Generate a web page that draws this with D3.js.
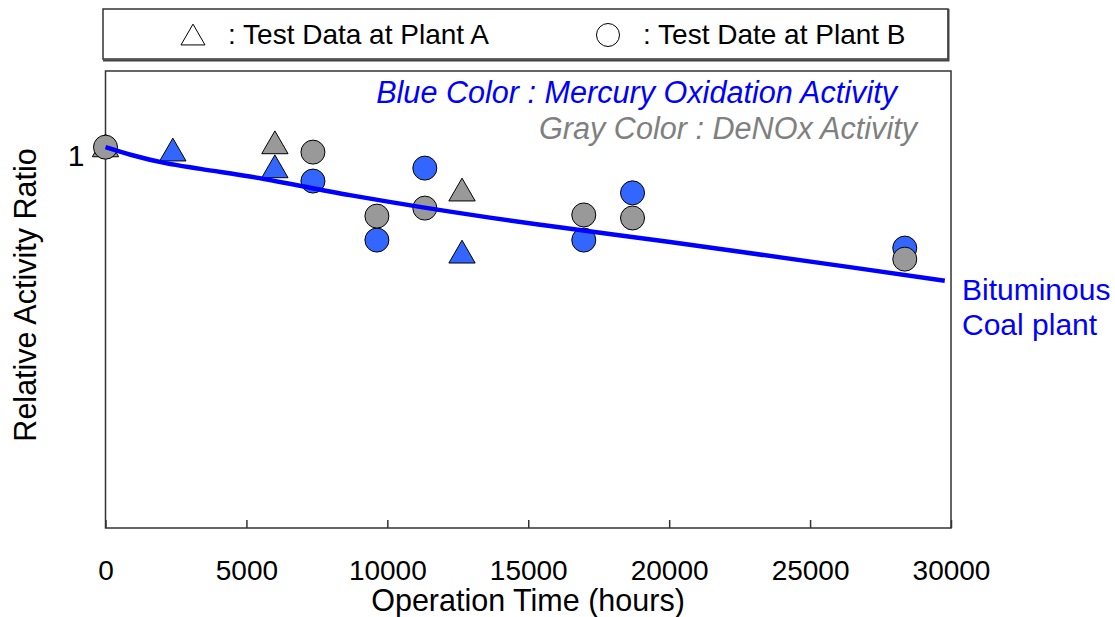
<!DOCTYPE html>
<html>
  <head>
    <title>Relative Activity Ratio</title>
    <script type="text/javascript" src="https://cdnjs.cloudflare.com/ajax/libs/d3/7.8.5/d3.min.js"></script>
    <style>
      body { margin: 0; background: #fff; }
      text { font-family: "Liberation Sans", Arial, sans-serif; }
    </style>
  </head>
  <body>
  <script>

    // plant A (triangles)
    var aMercuryHours = [2390, 6010, 12650];
    var aMercury      = [0.989, 0.945, 0.721];
    var aDenoxHours   = [0, 6010, 12650];
    var aDenox        = [1.0, 1.008, 0.884];

    // plant B (circles)
    var bMercuryHours = [7360, 9630, 11330, 16970, 18700, 28360];
    var bMercury      = [0.911, 0.756, 0.945, 0.756, 0.880, 0.735];
    var bDenoxHours   = [0, 7360, 9630, 11330, 16970, 18700, 28360];
    var bDenox        = [1.0, 0.987, 0.819, 0.840, 0.822, 0.814, 0.706];

    // trend line for bituminous coal plant
    var trendHours = [0, 890, 2130, 3370, 5120, 8670, 13640, 15770, 20030, 26410, 29780];
    var trendRatio = [1.0, 0.980, 0.958, 0.943, 0.923, 0.874, 0.815, 0.793, 0.751, 0.685, 0.649];

    var xTicks = [0, 5000, 10000, 15000, 20000, 25000, 30000];
    var yTicks = [1];

    var blue = '#3366ff', gray = '#999999';

    var svg = d3.select('body')
              .append('svg')
              .attr('width', 1115)
              .attr('height', 617);

    var x = d3.scaleLinear().domain([0, 30000]).range([105.5, 951]);
    var y = d3.scaleLinear().domain([0, 1.2]).range([528, 71]);

    // legend box
    svg.append('rect')
      .attr('x', 103).attr('y', 9)
      .attr('width', 845).attr('height', 50)
      .attr('fill', 'none').attr('stroke', '#333').attr('stroke-width', 1.5);
    svg.append('path')
      .attr('d', 'M103,60.5H948.5V9')
      .attr('fill', 'none').attr('stroke', '#444').attr('stroke-width', 2);

    svg.append('path')
      .attr('d', d3.symbol().type(d3.symbolTriangle).size(250)())
      .attr('transform', 'translate(193,38)')
      .attr('fill', 'none').attr('stroke', '#000').attr('stroke-width', 1);
    svg.append('text').attr('x', 228).attr('y', 44)
      .style('font-size', '28px').text(': Test Data at Plant A');

    svg.append('circle').attr('cx', 608).attr('cy', 35).attr('r', 11.5)
      .attr('fill', 'none').attr('stroke', '#000').attr('stroke-width', 1);
    svg.append('text').attr('x', 643).attr('y', 44)
      .style('font-size', '28px').text(': Test Date at Plant B');

    // plot box
    svg.append('rect')
      .attr('x', x(0)).attr('y', y(1.2))
      .attr('width', x(30000) - x(0)).attr('height', y(0) - y(1.2))
      .attr('fill', 'none').attr('stroke', '#333').attr('stroke-width', 1.5);

    var xAxis = svg.append('g')
      .attr('transform', 'translate(0,' + y(0) + ')')
      .call(d3.axisBottom(x).tickValues(xTicks).tickFormat(d3.format('d'))
        .tickSizeInner(-8).tickSizeOuter(0).tickPadding(32));
    xAxis.select('.domain').remove();
    xAxis.selectAll('line').attr('stroke', '#333').attr('stroke-width', 1.5);
    xAxis.selectAll('text').attr('fill', '#000')
      .style('font-size', '28px').style('font-family', '"Liberation Sans", Arial, sans-serif');

    var yAxis = svg.append('g')
      .attr('transform', 'translate(' + x(0) + ',0)')
      .call(d3.axisLeft(y).tickValues(yTicks).tickFormat(d3.format('d'))
        .tickSizeInner(0).tickSizeOuter(0).tickPadding(21));
    yAxis.select('.domain').remove();
    yAxis.selectAll('text').attr('fill', '#000').attr('dy', '0.62em')
      .style('font-size', '30px').style('font-family', '"Liberation Sans", Arial, sans-serif');

    svg.append('text')
      .attr('x', 528).attr('y', 611)
      .attr('text-anchor', 'middle')
      .style('font-size', '30.5px')
      .text('Operation Time (hours)');

    svg.append('text')
      .attr('transform', 'translate(36,295) rotate(-90)')
      .attr('text-anchor', 'middle')
      .style('font-size', '30.5px')
      .text('Relative Activity Ratio');

    // markers
    var tri = d3.symbol().type(d3.symbolTriangle).size(300);

    function triangles(hours, vals, fill) {
      svg.append('g').selectAll('path')
        .data(hours.map(function(h, i) { return [h, vals[i]]; }))
        .enter().append('path')
        .attr('d', tri)
        .attr('transform', function(d) { return 'translate(' + x(d[0]) + ',' + (y(d[1]) + 2) + ')'; })
        .attr('fill', fill).attr('stroke', '#000').attr('stroke-width', 1);
    }

    function circles(hours, vals, fill) {
      svg.append('g').selectAll('circle')
        .data(hours.map(function(h, i) { return [h, vals[i]]; }))
        .enter().append('circle')
        .attr('cx', function(d) { return x(d[0]); })
        .attr('cy', function(d) { return y(d[1]); })
        .attr('r', 12)
        .attr('fill', fill).attr('stroke', '#000').attr('stroke-width', 1);
    }

    triangles(aDenoxHours, aDenox, gray);
    triangles(aMercuryHours, aMercury, blue);
    circles(bMercuryHours, bMercury, blue);
    circles(bDenoxHours, bDenox, gray);

    var line = d3.line()
      .x(function(d) { return x(d[0]); })
      .y(function(d) { return y(d[1]); })
      .curve(d3.curveMonotoneX);

    svg.append('path')
      .datum(trendHours.map(function(h, i) { return [h, trendRatio[i]]; }))
      .attr('d', line)
      .attr('fill', 'none')
      .attr('stroke', '#0000ff')
      .attr('stroke-width', 4.5);

    // annotations
    svg.append('text')
      .attr('x', 897).attr('y', 103)
      .attr('text-anchor', 'end')
      .attr('fill', '#0000ff')
      .style('font-size', '30.6px').style('font-style', 'italic')
      .text('Blue Color : Mercury Oxidation Activity');

    svg.append('text')
      .attr('x', 917).attr('y', 139)
      .attr('text-anchor', 'end')
      .attr('fill', '#808080')
      .style('font-size', '30.6px').style('font-style', 'italic')
      .text('Gray Color : DeNOx Activity');

    svg.append('text')
      .attr('x', 962).attr('y', 300)
      .attr('fill', '#0000ff')
      .style('font-size', '30px')
      .text('Bituminous');
    svg.append('text')
      .attr('x', 962).attr('y', 335)
      .attr('fill', '#0000ff')
      .style('font-size', '30px')
      .text('Coal plant');

  </script>
 </body>
</html>
